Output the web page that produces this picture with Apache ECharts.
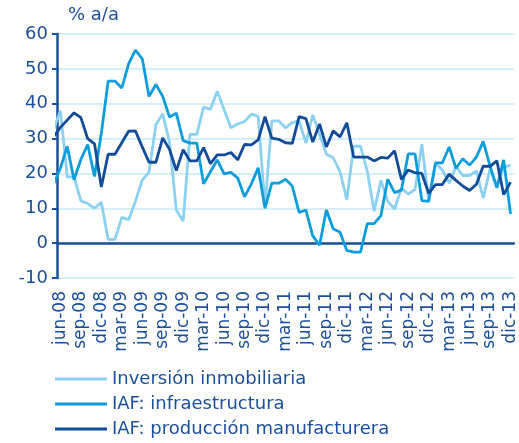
<!DOCTYPE html>
<html>
<head>
<meta charset="utf-8">
<script src="https://cdn.jsdelivr.net/npm/echarts@6/dist/echarts.min.js"></script>
<style>
    html, body { margin: 0; padding: 0; background: #fff; }
    #chart { width: 519px; height: 443px; }
</style>
</head>
<body>
<div id="chart"></div>
<script>
// months from may-08 (only the tail of its segment shows) to dic-13
var months = [
    'may-08', 'jun-08', 'jul-08', 'ago-08', 'sep-08', 'oct-08', 'nov-08', 'dic-08',
    'ene-09', 'feb-09', 'mar-09', 'abr-09', 'may-09', 'jun-09', 'jul-09', 'ago-09', 'sep-09', 'oct-09', 'nov-09', 'dic-09',
    'ene-10', 'feb-10', 'mar-10', 'abr-10', 'may-10', 'jun-10', 'jul-10', 'ago-10', 'sep-10', 'oct-10', 'nov-10', 'dic-10',
    'ene-11', 'feb-11', 'mar-11', 'abr-11', 'may-11', 'jun-11', 'jul-11', 'ago-11', 'sep-11', 'oct-11', 'nov-11', 'dic-11',
    'ene-12', 'feb-12', 'mar-12', 'abr-12', 'may-12', 'jun-12', 'jul-12', 'ago-12', 'sep-12', 'oct-12', 'nov-12', 'dic-12',
    'ene-13', 'feb-13', 'mar-13', 'abr-13', 'may-13', 'jun-13', 'jul-13', 'ago-13', 'sep-13', 'oct-13', 'nov-13', 'dic-13'
];

var inversion = [
    32.5, 38.0, 19.0, 19.0, 12.1, 11.4, 10.0, 11.7,
    1.1, 1.1, 7.4, 6.7, 12.0, 18.1, 20.4, 34.0, 37.1, 29.0, 9.5, 6.3,
    31.2, 31.2, 39.0, 38.4, 43.6, 38.3, 33.1, 34.2, 34.9, 37.0, 36.4, 10.5,
    35.1, 35.1, 33.1, 34.6, 35.1, 28.7, 36.8, 31.2, 25.5, 24.5, 20.5, 12.5,
    27.8, 27.8, 20.6, 9.2, 18.0, 12.0, 9.8, 15.8, 14.1, 15.4, 28.4, 12.3,
    23.0, 21.0, 17.2, 22.0, 19.4, 19.4, 20.7, 12.9, 21.3, 15.8, 21.8, 22.4
];

var infraestructura = [
    17.0, 21.5, 27.8, 18.2, 24.0, 28.3, 19.1, 31.5,
    46.5, 46.5, 44.5, 51.4, 55.4, 52.9, 42.1, 45.5, 42.1, 36.2, 37.3, 29.4,
    28.7, 28.7, 17.0, 20.5, 23.9, 19.9, 20.3, 18.7, 13.3, 17.0, 21.6, 10.0,
    17.2, 17.2, 18.3, 16.4, 8.8, 9.5, 2.1, -0.6, 9.5, 4.1, 3.1, -2.1,
    -2.6, -2.6, 5.6, 5.6, 7.9, 18.3, 14.5, 15.2, 25.6, 25.6, 12.2, 12.0,
    23.0, 23.0, 27.6, 21.5, 24.2, 22.4, 24.7, 29.2, 22.1, 16.0, 23.9, 8.4
];

var manufacturera = [
    30.5, 33.2, 35.3, 37.4, 36.0, 30.0, 28.5, 16.1,
    25.5, 25.5, 28.8, 32.1, 32.2, 27.6, 23.2, 23.2, 30.2, 26.9, 20.8, 26.8,
    23.6, 23.6, 27.4, 22.8, 25.3, 25.3, 26.0, 23.9, 28.3, 28.2, 29.6, 36.3,
    30.1, 29.8, 28.8, 28.6, 36.3, 35.7, 29.0, 34.2, 27.6, 32.2, 30.5, 34.5,
    24.7, 24.7, 24.7, 23.6, 24.6, 24.4, 26.5, 18.3, 21.0, 20.2, 20.0, 14.3,
    16.8, 16.8, 19.8, 18.0, 16.4, 15.1, 16.9, 22.1, 22.0, 23.6, 13.9, 17.5
];

var seriesNames = ['Inversión inmobiliaria', 'IAF: infraestructura', 'IAF: producción manufacturera'];
var seriesColors = ['#8dd1f2', '#0d9ddb', '#124b98'];

var blue = '#1b4f9b';
var font = 'DejaVu Sans';

// the axis shows jun-08..dic-13; may-08 sits at -1 and gets clipped
var shown = months.slice(1);

function toPoints(values) {
    return values.map(function(v, k) {
        return [k - 1, v];
    });
}

var chart = echarts.init(document.getElementById('chart'));

var option = {
    animation: false,
    title: {
        text: '% a/a',
        left: 63,
        top: 1,
        textStyle: { color: blue, fontSize: 18, fontWeight: 'normal', fontFamily: font }
    },
    grid: { left: 57, right: 3, top: 34, bottom: 165 },
    legend: {
        orient: 'vertical',
        left: 55,
        top: 370,
        height: 90,
        padding: 0,
        icon: 'rect',
        itemWidth: 52,
        itemHeight: 3,
        itemGap: 7,
        data: seriesNames,
        textStyle: { color: blue, fontSize: 18, fontFamily: font }
    },
    xAxis: [{
        // labels only, at the bottom of the grid
        type: 'category',
        data: shown,
        boundaryGap: true,
        position: 'bottom',
        axisLine: { show: false, onZero: false },
        axisTick: { show: false },
        axisLabel: { interval: 2, rotate: 90, margin: 13, color: blue, fontSize: 17, fontFamily: font },
        splitLine: { show: false }
    }, {
        // axis line and ticks at zero
        type: 'category',
        data: shown,
        boundaryGap: true,
        position: 'top',
        axisLine: { onZero: true, lineStyle: { color: blue, width: 2.5 } },
        axisTick: { interval: 2, inside: true, length: 6, lineStyle: { color: blue, width: 2 } },
        axisLabel: { show: false },
        splitLine: { show: false }
    }, {
        type: 'value',
        min: -0.5,
        max: 66.5,
        show: false
    }],
    yAxis: {
        type: 'value',
        min: -10,
        max: 60,
        interval: 10,
        axisLine: { show: true, onZero: false, lineStyle: { color: blue, width: 2.5 } },
        axisTick: { show: true, length: 5, lineStyle: { color: blue, width: 2 } },
        axisLabel: { color: blue, fontSize: 18, margin: 9, fontFamily: font },
        splitLine: { lineStyle: { color: '#c8e9f8', width: 1.5 } }
    },
    series: [inversion, infraestructura, manufacturera].map(function(values, k) {
        return {
            name: seriesNames[k],
            type: 'line',
            xAxisIndex: 2,
            data: toPoints(values),
            showSymbol: false,
            symbol: 'none',
            color: seriesColors[k],
            lineStyle: { width: 2.8, color: seriesColors[k] }
        };
    })
};

chart.setOption(option);
</script>
</body>
</html>
